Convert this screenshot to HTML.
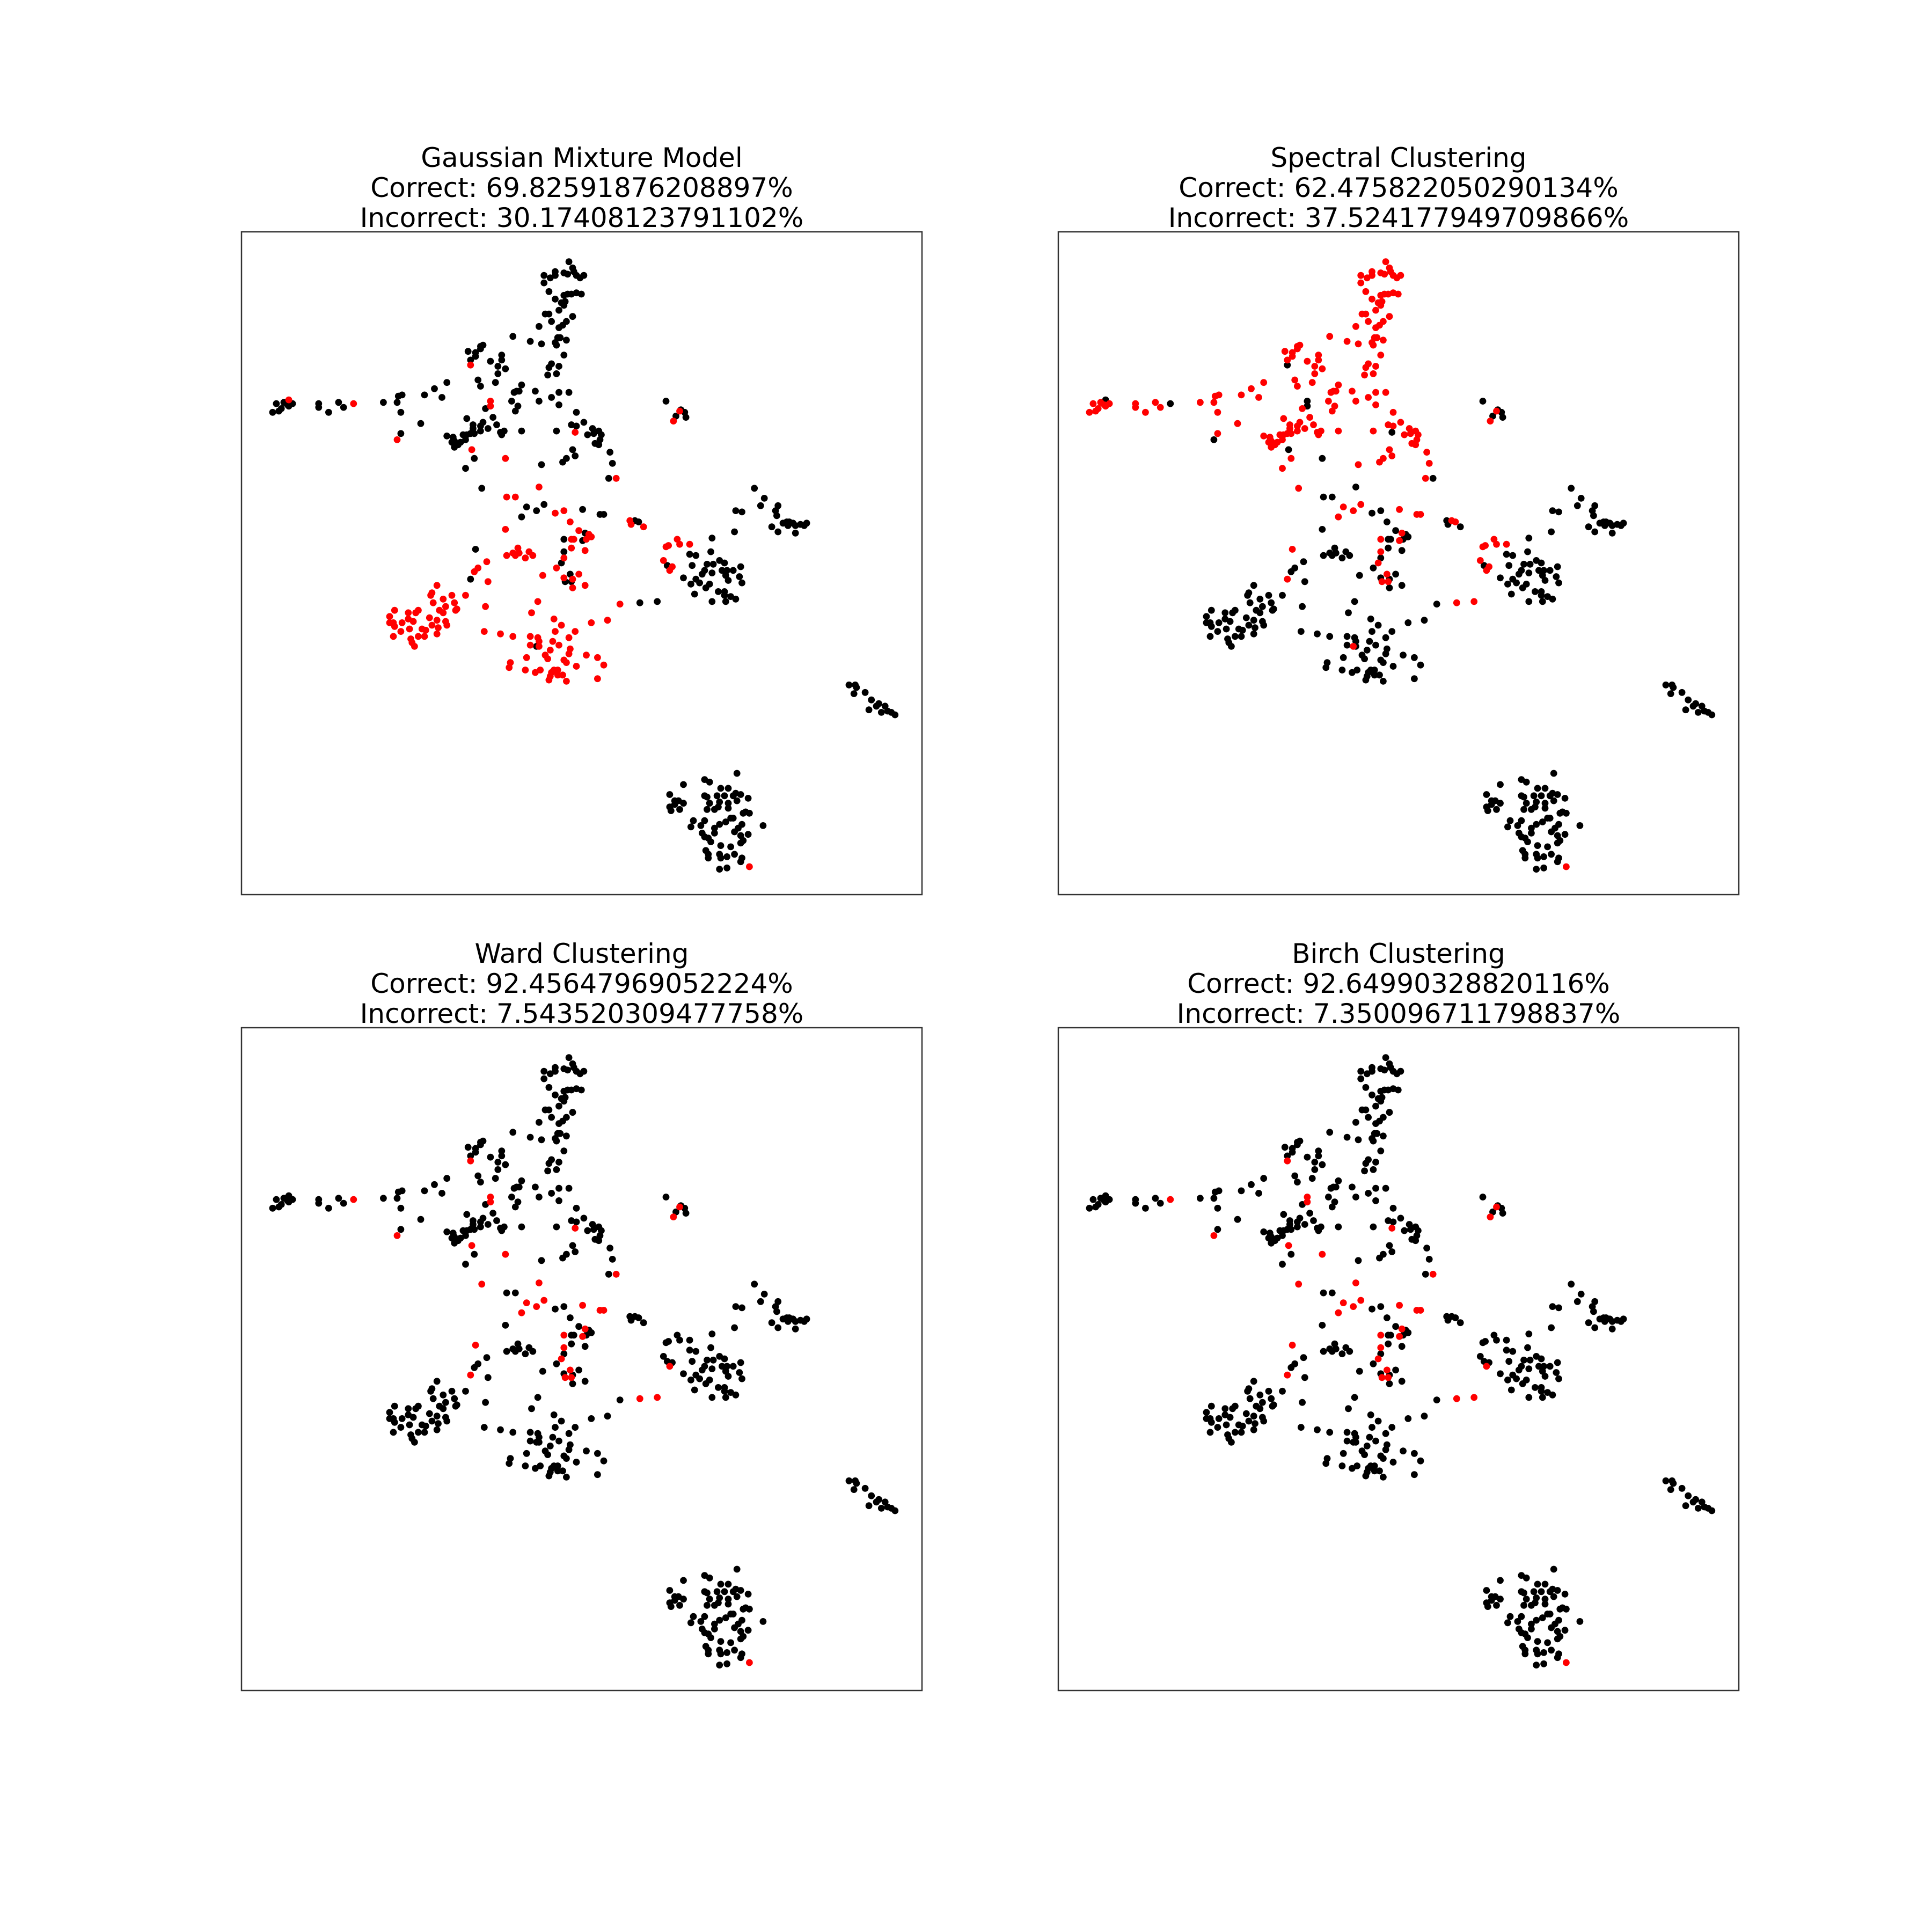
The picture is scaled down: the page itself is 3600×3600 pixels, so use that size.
<!DOCTYPE html>
<html>
<head>
<meta charset="utf-8">
<style>
html,body{margin:0;padding:0;background:#fff;}
svg{display:block;}
text{font-family:"DejaVu Sans","Liberation Sans",sans-serif;font-size:50px;fill:#000;}
</style>
</head>
<body>
<svg id="fig" width="3600" height="3600" viewBox="0 0 3600 3600" xmlns="http://www.w3.org/2000/svg">
<rect x="0" y="0" width="3600" height="3600" fill="#fff"/>
</svg>
<script>
// Panel titles
const panelNames = ["Gaussian Mixture Model","Spectral Clustering","Ward Clustering","Birch Clustering"];
const correctPct = ["69.82591876208897","62.475822050290134","92.45647969052224","92.64990328820116"];
const incorrectPct = ["30.17408123791102","37.524177949709866","7.543520309477758","7.350096711798837"];
// flag letter per panel marking an incorrectly classified (red) point
const panelFlags = ["G","S","W","B"];

// Embedding points: x, y (data units), flags for panels where point is red
const points = [
[25,145,'S'],[28,138,'S'],[30,144,'S'],[32,142,'S'],[34,137,'S'],[37,139,'S'],[38,135,'G'],[38,140,'S'],[41,138,'S'],
[62,138,'S'],[62,141,'S'],[70,145,'S'],[78,137,'S'],[82,141,'S'],[90,138,'GWB'],
[114,137,'S'],[125,137,'S'],[126,132,'S'],[129,131,'S'],[128,145,'S'],[147,131,'S'],[155,126,'S'],[161,133,'S'],[165,121,'S'],[144,154,'S'],[128,162,'S'],[125,167,'GWB'],
[182,96,'S'],[184,103,'S'],[184,107,'GWB'],[188,100,'S'],[188,97,'S'],[192,92,'S'],[194,91,'S'],[192,94,'S'],[200,104,'S'],[209,99,'S'],[209,103,'S'],[206,108,'S'],[212,110,'S'],[206,114,'S'],[190,119,'S'],[192,124,'S'],[204,121,'S'],[218,84,'S'],[232,88,'S'],[241,90,'S'],
[263,24,'S'],[266,29,'S'],[267,32,'S'],[269,35,'S'],[272,37,'S'],[275,35,'S'],[259,33,'S'],[262,34,'S'],[252,32,'S'],[252,35,'S'],[243,35,'S'],[248,37,'S'],[243,41,'S'],[247,48,'S'],[259,51,'S'],[262,50,'S'],[265,50,'S'],[269,49,'S'],[273,50,'S'],[252,54,'S'],[257,57,'S'],[260,56,'S'],[259,59,'S'],[255,63,'S'],[244,66,'S'],[247,66,'S'],[249,72,'S'],[266,68,'S'],[261,72,'S'],[258,75,'S'],[255,77,'S'],[239,76,'S'],[254,85,'S'],[256,85,'S'],[261,87,'S'],[252,89,'S'],[253,91,'S'],[259,99,'S'],[249,106,'S'],[247,109,'S'],[255,108,'S'],[253,114,'S'],[246,115,'S'],
[225,123,'S'],[219,129,'S'],[221,128,'S'],[223,128,'S'],[236,128,'S'],[255,129,'S'],[263,129,'S'],[249,133,'S'],[239,136,'S'],[217,136,'S'],[222,140,'S'],[220,144,'S'],[255,139,'S'],[200,136,'GWB'],[200,140,'GWB'],[196,142,'S'],[202,149,'S'],[269,145,'S'],[275,153,'S'],[265,155,'S'],[269,156,'S'],[268,161,'GWB'],[278,163,'S'],[282,158,'S'],[283,162,'S'],[287,160,'S'],[289,163,'S'],[288,167,'S'],[284,170,'S'],[287,171,'S'],[296,177,'S'],[298,186,'S'],[295,198,'S'],[301,198,'GWB'],
[181,150,'S'],[186,155,'S'],[186,158,'S'],[192,156,'S'],[194,153,'S'],[192,160,'S'],[198,158,'S'],[205,155,'S'],[208,161,'S'],[211,160,'S'],[209,163,'S'],[225,160,'S'],[253,160,'S'],[165,164,'S'],[170,165,'S'],[169,169,'S'],[171,168,'S'],[171,173,'S'],[174,171,'S'],[176,169,'S'],[178,163,'S'],[181,163,'S'],[180,167,'S'],[184,162,'S'],[187,162,'S'],[185,175,'GWB'],[187,182,'S'],[180,190,'S'],[212,182,'GWB'],[241,187,'S'],[258,185,'S'],[261,182,'S'],[268,180,'S'],[266,175,'S'],[193,206,'SWB'],
[239,205,'GWB'],[213,213,'G'],[220,213,'G'],[229,221,'SWB'],[243,219,'SWB'],[237,224,'SWB'],[225,229,'SWB'],[252,226,'G'],[259,224,'G'],[274,223,'SWB'],[288,227,'SWB'],[291,227,'SWB'],[264,233,'G'],[212,239,'G'],[271,240,'G'],[276,242,'SWB'],[279,243,'G'],[281,245,'G'],[277,247,'G'],[274,248,'SWB'],[259,247,'SWB'],[265,247,'G'],[267,247,'G'],[265,254,'G'],[276,256,'G'],[259,257,'SWB'],[259,262,'G'],[257,266,'SWB'],[253,270,'G'],[242,276,'G'],[264,275,'SWB'],[271,275,'G'],[259,278,'G'],[266,279,'G'],[260,281,'SWB'],[265,281,'SWB'],[266,286,'G'],[276,284,'G'],
[188,255,'SWB'],[222,254,'G'],[218,258,'G'],[223,258,'G'],[220,260,'G'],[213,260,'G'],[231,257,'G'],[228,262,'G'],[234,260,'G'],[197,265,'G'],[190,270,'G'],[187,273,'G'],[184,279,'SWB'],[198,281,'G'],
[157,284,'G'],[153,290,'G'],[152,292,'G'],[169,292,'G'],[180,292,'G'],[162,295,'G'],[154,298,'G'],[171,298,'G'],[164,301,'G'],[173,303,'G'],[172,304,'G'],[159,304,'G'],[162,306,'G'],[142,304,'G'],[140,306,'G'],[134,306,'G'],[123,304,'G'],[119,309,'G'],[134,311,'G'],[151,310,'G'],[157,312,'G'],[119,314,'G'],[122,314,'G'],[129,314,'G'],[138,313,'G'],[123,317,'G'],[153,316,'G'],[164,313,'G'],[165,316,'G'],[158,318,'G'],[135,319,'G'],[145,319,'G'],[148,320,'G'],[128,321,'G'],[157,323,'G'],[122,325,'G'],[142,325,'G'],[147,325,'G'],[136,327,'G'],[137,330,'G'],[139,333,'G'],
[196,301,'G'],[238,297,'G'],[233,306,'G'],
[195,321,'G'],[208,323,'G'],[218,325,'G'],[232,325,'G'],[238,326,'G'],[239,329,'G'],[251,311,'G'],[257,316,'G'],[252,321,'G'],[268,321,'G'],[281,314,'G'],[294,312,'G'],[263,326,'G'],[250,329,'G'],[255,332,'G'],[232,332,'G'],[237,333,'S'],[239,333,'G'],[248,336,'G'],[264,335,'G'],[263,339,'G'],[244,340,'G'],[246,343,'G'],[229,342,'G'],[277,340,'G'],[286,342,'G'],[259,344,'G'],[261,346,'G'],[216,346,'G'],[215,350,'G'],[269,349,'G'],[291,348,'G'],[228,352,'G'],[240,352,'G'],[236,354,'G'],[251,352,'G'],[254,352,'G'],[249,354,'G'],[254,356,'G'],[258,356,'G'],[248,357,'G'],[247,360,'G'],[261,361,'G'],[286,359,'G'],
[341,136,''],[352,144,'GSWB'],[353,143,''],[356,145,''],[357,149,''],[349,148,''],[347,152,'GSWB'],
[312,232,'G'],[313,235,'G'],[316,232,'S'],[319,233,'S'],[323,237,'G'],
[341,253,'GS'],[343,252,'GS'],[350,247,'GS'],[352,251,'GS'],[360,251,'GS'],[339,264,'GS'],[342,268,''],[346,269,'GS'],[344,272,'GSWB'],
[304,299,'G'],[320,298,'SWB'],[334,297,'SWB'],
[378,246,''],[377,257,''],[360,259,''],[365,260,''],[362,268,''],[355,278,''],[361,283,''],[364,291,''],[365,279,''],[368,282,''],[370,275,''],[372,272,''],[374,267,''],[379,267,''],[378,274,''],[376,283,''],[373,286,''],[384,264,''],[388,266,''],[386,272,''],[390,272,''],[395,272,''],[401,269,''],[389,276,''],[391,280,''],[400,277,''],[402,282,''],[383,289,''],[388,289,''],[388,292,''],[393,293,''],[397,295,''],[378,297,''],[389,297,''],
[396,241,''],[397,224,''],[402,225,''],
[412,206,''],[420,214,''],[417,220,''],[431,220,''],[429,224,''],[430,228,''],[426,237,''],[431,241,''],[435,234,''],[438,233,''],[440,233,''],[439,236,''],[443,234,''],[445,236,''],[449,235,''],[452,236,''],[454,234,''],[445,242,''],
[488,364,''],[493,364,''],[492,371,''],[494,366,''],[501,370,''],[506,376,''],[504,384,''],[510,381,''],[512,379,''],[517,381,''],[514,386,''],[519,385,''],[522,386,''],[525,388,''],
[398,435,''],[355,444,''],[372,440,''],[376,442,''],[344,452,''],[385,447,''],[391,447,''],[401,452,''],[397,451,''],[395,453,''],[407,455,''],[372,453,''],[374,454,''],[382,453,''],[388,453,''],[398,457,''],[348,457,''],[351,457,''],[355,459,''],[348,460,''],[344,462,''],[345,465,''],[352,464,''],[376,459,''],[384,458,''],[391,459,''],[380,464,''],[383,462,''],[374,464,''],[391,463,''],[403,467,''],[405,466,''],[408,467,''],[419,477,''],[363,473,''],[361,478,''],[369,477,''],[372,473,''],[380,479,''],[384,476,''],[389,474,''],[393,471,''],[395,471,''],[402,476,''],[399,479,''],[380,483,''],[370,483,''],[372,486,''],[375,487,''],[377,490,''],[396,482,''],[401,485,''],[407,484,''],[403,489,''],[401,491,''],[385,493,''],[393,494,''],[373,497,''],[375,500,''],[375,503,''],[384,500,''],[385,503,''],[390,502,''],[396,500,''],[402,503,''],[401,506,''],[384,512,''],[390,511,''],[408,510,'GSWB']
];

const NS = "http://www.w3.org/2000/svg";
const svg = document.getElementById("fig");
const panelLeft = [450, 1972, 450, 1972];
const panelTop = [432, 432, 1915, 1915];
const panelW = 1268, panelH = 1235;
const UNIT = 2.3196;
function xScale(p, v){ return panelLeft[p] + v * UNIT; }
function yScale(p, v){ return panelTop[p] + v * UNIT; }

for (let p = 0; p < 4; p++) {
  const g = document.createElementNS(NS, "g");
  
  
  svg.appendChild(g);

  const cx = panelLeft[p] + panelW / 2;
  const lines = [panelNames[p], "Correct: " + correctPct[p] + "%", "Incorrect: " + incorrectPct[p] + "%"];
  const names = ["panel-title", "correct-label", "incorrect-label"];
  for (let i = 0; i < 3; i++) {
    const t = document.createElementNS(NS, "text");
    t.setAttribute("x", cx);
    t.setAttribute("y", panelTop[p] - 121 + i * 56);
    t.setAttribute("text-anchor", "middle");
    t.textContent = lines[i];
    
    
    g.appendChild(t);
  }

  const frame = document.createElementNS(NS, "rect");
  frame.setAttribute("x", panelLeft[p]);
  frame.setAttribute("y", panelTop[p]);
  frame.setAttribute("width", panelW);
  frame.setAttribute("height", panelH);
  frame.setAttribute("fill", "none");
  frame.setAttribute("stroke", "#333");
  frame.setAttribute("stroke-width", "2.5");
  
  
  g.appendChild(frame);

  const flag = panelFlags[p];
  const blacks = [], reds = [];
  points.forEach(pt => { (pt[2].indexOf(flag) >= 0 ? reds : blacks).push(pt); });
  [[blacks, "#000", "correct-point"], [reds, "#ff0000", "incorrect-point"]].forEach(set => {
    set[0].forEach(pt => {
      const c = document.createElementNS(NS, "circle");
      c.setAttribute("cx", xScale(p, pt[0]).toFixed(1));
      c.setAttribute("cy", yScale(p, pt[1]).toFixed(1));
      c.setAttribute("r", "6.4");
      c.setAttribute("fill", set[1]);
      
      
      g.appendChild(c);
    });
  });
}
</script>
</body>
</html>
